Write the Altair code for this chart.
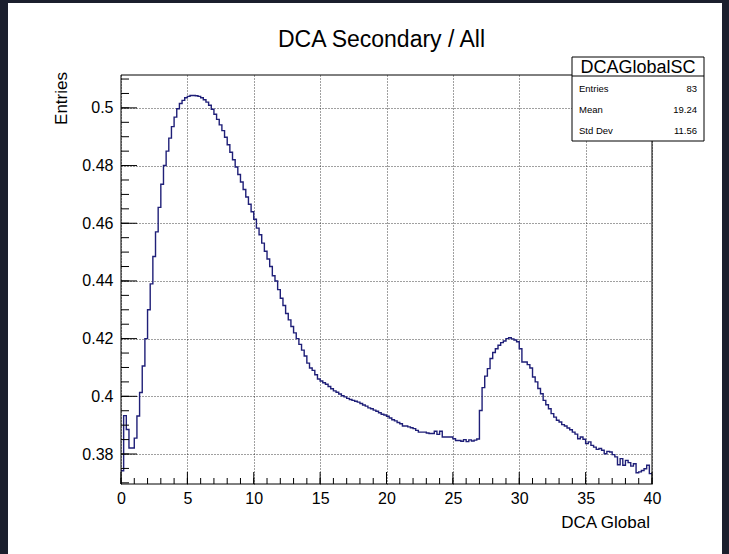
import altair as alt
import pandas as pd

FONT = "Liberation Sans"
W, H = 531, 409          # plot frame size in px

# ---------------- texts ----------------
title_text = "DCA Secondary / All"
x_title = "DCA Global"
y_title = "Entries"
stats_name = "DCAGlobalSC"
stats_labels = ["Entries", "Mean", "Std Dev"]
stats_values = ["83", "19.24", "11.56"]

# ---------------- histogram definition ----------------
x_min, x_max, n_bins = 0.0, 40.0, 200
y_range = [0.3696, 0.5114]

bin_contents = [
    0.3742, 0.3933, 0.3885, 0.3821, 0.3821, 0.3855, 0.3932, 0.4013, 0.4105, 0.4200,
    0.4300, 0.4390, 0.4485, 0.4570, 0.4655, 0.4735, 0.4800, 0.4850, 0.4895, 0.4935,
    0.4968, 0.4997, 0.5015, 0.5026, 0.5035, 0.5040, 0.5043, 0.5043, 0.5042, 0.5040,
    0.5035, 0.5028, 0.5020, 0.5009, 0.4995, 0.4978, 0.4960, 0.4941, 0.4921, 0.4898,
    0.4872, 0.4846, 0.4820, 0.4795, 0.4769, 0.4743, 0.4717, 0.4691, 0.4666, 0.4640,
    0.4614, 0.4583, 0.4560, 0.4531, 0.4503, 0.4476, 0.4450, 0.4418, 0.4400, 0.4370,
    0.4340, 0.4315, 0.4287, 0.4265, 0.4242, 0.4220, 0.4200, 0.4180, 0.4160, 0.4140,
    0.4115, 0.4098, 0.4090, 0.4075, 0.4060, 0.4053, 0.4047, 0.4042, 0.4034, 0.4026,
    0.4019, 0.4014, 0.4008, 0.4002, 0.3998, 0.3993, 0.3989, 0.3986, 0.3983, 0.3980,
    0.3975, 0.3970, 0.3966, 0.3960, 0.3957, 0.3952, 0.3948, 0.3943, 0.3938, 0.3935,
    0.3931, 0.3925, 0.3919, 0.3915, 0.3909, 0.3905, 0.3897, 0.3897, 0.3894, 0.3891,
    0.3888, 0.3882, 0.3876, 0.3876, 0.3876, 0.3873, 0.3871, 0.3871, 0.3879, 0.3868,
    0.3879, 0.3859, 0.3859, 0.3859, 0.3859, 0.3853, 0.3847, 0.3847, 0.3844, 0.3850,
    0.3843, 0.3849, 0.3845, 0.3848, 0.3852, 0.3951, 0.4030, 0.4070, 0.4096, 0.4131,
    0.4152, 0.4165, 0.4177, 0.4186, 0.4192, 0.4200, 0.4203, 0.4199, 0.4195, 0.4189,
    0.4165, 0.4119, 0.4119, 0.4110, 0.4098, 0.4067, 0.4050, 0.4027, 0.4009, 0.3986,
    0.3971, 0.3957, 0.3940, 0.3928, 0.3917, 0.3911, 0.3902, 0.3897, 0.3890, 0.3884,
    0.3876, 0.3869, 0.3853, 0.3859, 0.3851, 0.3836, 0.3842, 0.3830, 0.3824, 0.3816,
    0.3819, 0.3813, 0.3801, 0.3809, 0.3807, 0.3798, 0.3790, 0.3763, 0.3784, 0.3761,
    0.3778, 0.3770, 0.3758, 0.3766, 0.3735, 0.3738, 0.3743, 0.3749, 0.3761, 0.3732,
]

# ---------------- tick positions ----------------
x_major = [0, 5, 10, 15, 20, 25, 30, 35, 40]
x_minor = [0, 1, 2, 3, 4, 5, 6, 7, 8, 9, 10, 11, 12, 13, 14, 15, 16, 17, 18, 19, 20,
           21, 22, 23, 24, 25, 26, 27, 28, 29, 30, 31, 32, 33, 34, 35, 36, 37, 38, 39, 40]
y_major = [0.38, 0.40, 0.42, 0.44, 0.46, 0.48, 0.50]
y_minor = [0.370, 0.375, 0.380, 0.385, 0.390, 0.395, 0.400, 0.405, 0.410, 0.415,
           0.420, 0.425, 0.430, 0.435, 0.440, 0.445, 0.450, 0.455, 0.460, 0.465,
           0.470, 0.475, 0.480, 0.485, 0.490, 0.495, 0.500, 0.505, 0.510]

# ---------------- data frames ----------------
bin_width = (x_max - x_min) / n_bins
bin_edges = [x_min + i * bin_width for i in range(n_bins + 1)]
hist_df = pd.DataFrame({"x": bin_edges, "y": bin_contents + [bin_contents[-1]]})
one = pd.DataFrame({"k": [0]})

xs = alt.Scale(domain=[x_min, x_max], nice=False, zero=False)
ys = alt.Scale(domain=y_range, nice=False, zero=False)

x_axis = alt.Axis(values=x_major, grid=True, gridDash=[1, 2], gridColor="#000000",
                  gridOpacity=0.75, gridWidth=1, domain=False, ticks=False, tickSize=0,
                  labelFont=FONT, labelFontSize=16, labelColor="#000000",
                  labelPadding=6, labelFlush=False, labelOverlap=False, title=None)
y_axis = alt.Axis(values=y_major, grid=True, gridDash=[1, 2], gridColor="#000000",
                  gridOpacity=0.75, gridWidth=1, domain=False, ticks=False, tickSize=0,
                  format="~g", labelFont=FONT, labelFontSize=16, labelColor="#000000",
                  labelPadding=8, labelFlush=False, labelOverlap=False, title=None)

layers = []

# dark screenshot border strips
for (x1, x2, y1, y2) in [(-121, -113, -75, H + 70), (-121, W + 77, -75, -72), (601, W + 77, -75, H + 70)]:
    layers.append(alt.Chart(one).mark_rect(color="#1b1f2d").encode(
        x=alt.value(x1), x2=alt.value(x2), y=alt.value(y1), y2=alt.value(y2)))

# histogram
layers.append(alt.Chart(hist_df).mark_line(interpolate="step-after", color="#1f1f78",
                                           strokeWidth=1.4).encode(
    x=alt.X("x:Q", scale=xs, axis=x_axis),
    y=alt.Y("y:Q", scale=ys, axis=y_axis)))

# inward ticks
layers.append(alt.Chart(pd.DataFrame({"t": x_minor})).mark_rule(color="#000000").encode(
    x=alt.X("t:Q", scale=xs, axis=x_axis), y=alt.value(H), y2=alt.value(H - 6)))
layers.append(alt.Chart(pd.DataFrame({"t": x_major})).mark_rule(color="#000000").encode(
    x=alt.X("t:Q", scale=xs, axis=x_axis), y=alt.value(H), y2=alt.value(H - 12)))
layers.append(alt.Chart(pd.DataFrame({"t": y_minor})).mark_rule(color="#000000").encode(
    y=alt.Y("t:Q", scale=ys, axis=y_axis), x=alt.value(0), x2=alt.value(8)))
layers.append(alt.Chart(pd.DataFrame({"t": y_major})).mark_rule(color="#000000").encode(
    y=alt.Y("t:Q", scale=ys, axis=y_axis), x=alt.value(0), x2=alt.value(16)))

# frame
layers.append(alt.Chart(one).mark_rect(fillOpacity=0, stroke="#000000", strokeWidth=1).encode(
    x=alt.value(0), x2=alt.value(W), y=alt.value(0), y2=alt.value(H)))

# stats box
bx1, bx2, by1, by2 = 451, 583, -18, 66
layers.append(alt.Chart(one).mark_rect(fill="#ffffff", stroke="#000000", strokeWidth=1).encode(
    x=alt.value(bx1), x2=alt.value(bx2), y=alt.value(by1), y2=alt.value(by2)))
layers.append(alt.Chart(one).mark_rule(color="#000000").encode(
    x=alt.value(bx1), x2=alt.value(bx2), y=alt.value(1)))
layers.append(alt.Chart(one).mark_text(text=stats_name, font=FONT, fontSize=18, color="#000000",
                                       align="center", baseline="alphabetic").encode(
    x=alt.value((bx1 + bx2) / 2), y=alt.value(-2)))
for i, (lab, val) in enumerate(zip(stats_labels, stats_values)):
    yy = 14 + 21 * i
    layers.append(alt.Chart(one).mark_text(text=lab, font=FONT, fontSize=9.5, color="#000000",
                                           align="left", baseline="middle").encode(
        x=alt.value(bx1 + 7), y=alt.value(yy)))
    layers.append(alt.Chart(one).mark_text(text=val, font=FONT, fontSize=9.5, color="#000000",
                                           align="right", baseline="middle").encode(
        x=alt.value(bx2 - 7), y=alt.value(yy)))

# titles
layers.append(alt.Chart(one).mark_text(text=title_text, font=FONT, fontSize=23, color="#000000",
                                       align="center", baseline="middle").encode(
    x=alt.value(260.5), y=alt.value(-35)))
layers.append(alt.Chart(one).mark_text(text=x_title, font=FONT, fontSize=17, color="#000000",
                                       align="right", baseline="alphabetic").encode(
    x=alt.value(W - 2), y=alt.value(H + 44)))
layers.append(alt.Chart(one).mark_text(text=y_title, font=FONT, fontSize=17, color="#000000",
                                       align="right", baseline="middle", angle=270).encode(
    x=alt.value(-59), y=alt.value(-3)))

chart = alt.layer(*layers).properties(
    width=W, height=H,
    autosize=alt.AutoSizeParams(type="none"),
    padding={"left": 121, "top": 75, "right": 77, "bottom": 70},
).configure(background="#ffffff").configure_view(strokeWidth=0)

chart.save("out.html", embed_options={"renderer": "svg", "actions": False})
